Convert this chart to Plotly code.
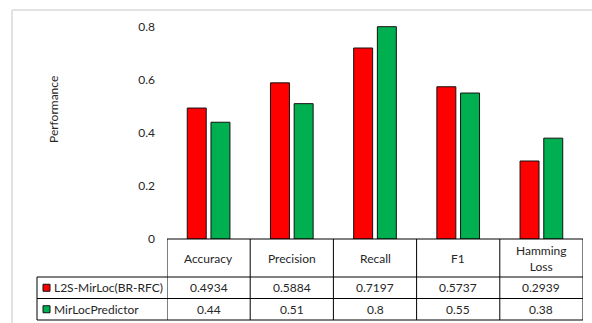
import plotly.graph_objects as go

# Metrics and series
categories = ["Accuracy", "Precision", "Recall", "F1", "Hamming Loss"]
header_labels = ["Accuracy", "Precision", "Recall", "F1", "Hamming<br>Loss"]
series_names = ["L2S-MirLoc(BR-RFC)", "MirLocPredictor"]
l2s_values = [0.4934, 0.5884, 0.7197, 0.5737, 0.2939]
mirloc_values = [0.44, 0.51, 0.8, 0.55, 0.38]
value_labels = [
    ["0.4934", "0.5884", "0.7197", "0.5737", "0.2939"],
    ["0.44", "0.51", "0.8", "0.55", "0.38"],
]
series_colors = ["#FF0000", "#00B050"]
y_ticks = [0, 0.2, 0.4, 0.6, 0.8]

W, H = 592, 323
ML, MR, MT, MB = 167, 9, 15, 84
PW, PH = W - ML - MR, H - MT - MB

FONT = "Lato, 'Open Sans', sans-serif"
TXT = "#262626"


def px_x(px):
    return (px - ML) / PW


def px_y(py):
    return 1 - (py - MT) / PH


fig = go.Figure()
for name, vals, col in zip(series_names, [l2s_values, mirloc_values], series_colors):
    fig.add_trace(go.Bar(
        x=list(range(len(categories))), y=vals, name=name,
        marker=dict(color=col, line=dict(color="#111111", width=1)),
    ))

shapes = []
annotations = []

# outer chart frame (top and left edges)
shapes.append(dict(type="line", xref="paper", yref="paper",
                   x0=px_x(12), x1=px_x(W + 5), y0=px_y(10), y1=px_y(10),
                   line=dict(color="#D9D9D9", width=1.5)))
shapes.append(dict(type="line", xref="paper", yref="paper",
                   x0=px_x(12), x1=px_x(12), y0=px_y(10), y1=px_y(H + 5),
                   line=dict(color="#D9D9D9", width=1.5)))

# data table below the plot
row_y = [239, 277, 298.5, 320]
legend_left = 37
line_style = dict(color="#000000", width=1)
n = len(categories)

# horizontal lines
shapes.append(dict(type="line", xref="x", yref="paper", x0=-0.5, x1=n - 0.5,
                   y0=px_y(row_y[0]), y1=px_y(row_y[0]), line=line_style))
for ry in row_y[1:]:
    shapes.append(dict(type="line", xref="paper", yref="paper",
                       x0=px_x(legend_left), x1=1, y0=px_y(ry), y1=px_y(ry),
                       line=line_style))
# vertical lines
for i in range(n + 1):
    shapes.append(dict(type="line", xref="x", yref="paper", x0=i - 0.5, x1=i - 0.5,
                       y0=px_y(row_y[0]), y1=px_y(row_y[3]), line=line_style))
shapes.append(dict(type="line", xref="paper", yref="paper",
                   x0=px_x(legend_left), x1=px_x(legend_left),
                   y0=px_y(row_y[1]), y1=px_y(row_y[3]), line=line_style))

# header cells
for i, lab in enumerate(header_labels):
    annotations.append(dict(x=i, y=px_y((row_y[0] + row_y[1]) / 2), xref="x", yref="paper",
                            text=lab, showarrow=False, font=dict(size=12, color=TXT, family=FONT),
                            xanchor="center", yanchor="middle"))

# value rows with legend keys
for r in range(2):
    cy = (row_y[r + 1] + row_y[r + 2]) / 2
    shapes.append(dict(type="rect", xref="paper", yref="paper",
                       x0=px_x(43), x1=px_x(50), y0=px_y(cy + 3.5), y1=px_y(cy - 3.5),
                       fillcolor=series_colors[r], line=dict(color="#111111", width=1)))
    annotations.append(dict(x=px_x(52), y=px_y(cy), xref="paper", yref="paper",
                            text=series_names[r], showarrow=False,
                            font=dict(size=12, color=TXT, family=FONT),
                            xanchor="left", yanchor="middle"))
    for i in range(n):
        annotations.append(dict(x=i, y=px_y(cy), xref="x", yref="paper",
                                text=value_labels[r][i], showarrow=False,
                                font=dict(size=12, color=TXT, family=FONT),
                                xanchor="center", yanchor="middle"))

# y-axis title
annotations.append(dict(x=px_x(53), y=px_y(109), xref="paper", yref="paper",
                        text="Performance", textangle=-90, showarrow=False,
                        font=dict(size=12, color=TXT, family=FONT),
                        xanchor="center", yanchor="middle"))

y_top = 0.8 * PH / (239.3 - 26.7 - (239 - MT - PH) * 0)
y_top = 0.8 * PH / (239 - 26.7)

fig.update_layout(
    width=W, height=H,
    margin=dict(l=ML, r=MR, t=MT, b=MB),
    paper_bgcolor="white", plot_bgcolor="white",
    barmode="group", bargap=0.43, bargroupgap=0.2,
    showlegend=False,
    font=dict(family=FONT, size=12, color=TXT),
    xaxis=dict(range=[-0.5, n - 0.5], showticklabels=False, showgrid=False,
               zeroline=False, showline=False, ticks=""),
    yaxis=dict(range=[0, y_top], tickvals=y_ticks, ticktext=[f"{v:g}" for v in y_ticks],
               showgrid=False, zeroline=False, showline=False, ticks="",
               ticklabelstandoff=11, tickfont=dict(size=12, color=TXT, family=FONT)),
    shapes=shapes, annotations=annotations,
)

fig.write_html("out.html")
